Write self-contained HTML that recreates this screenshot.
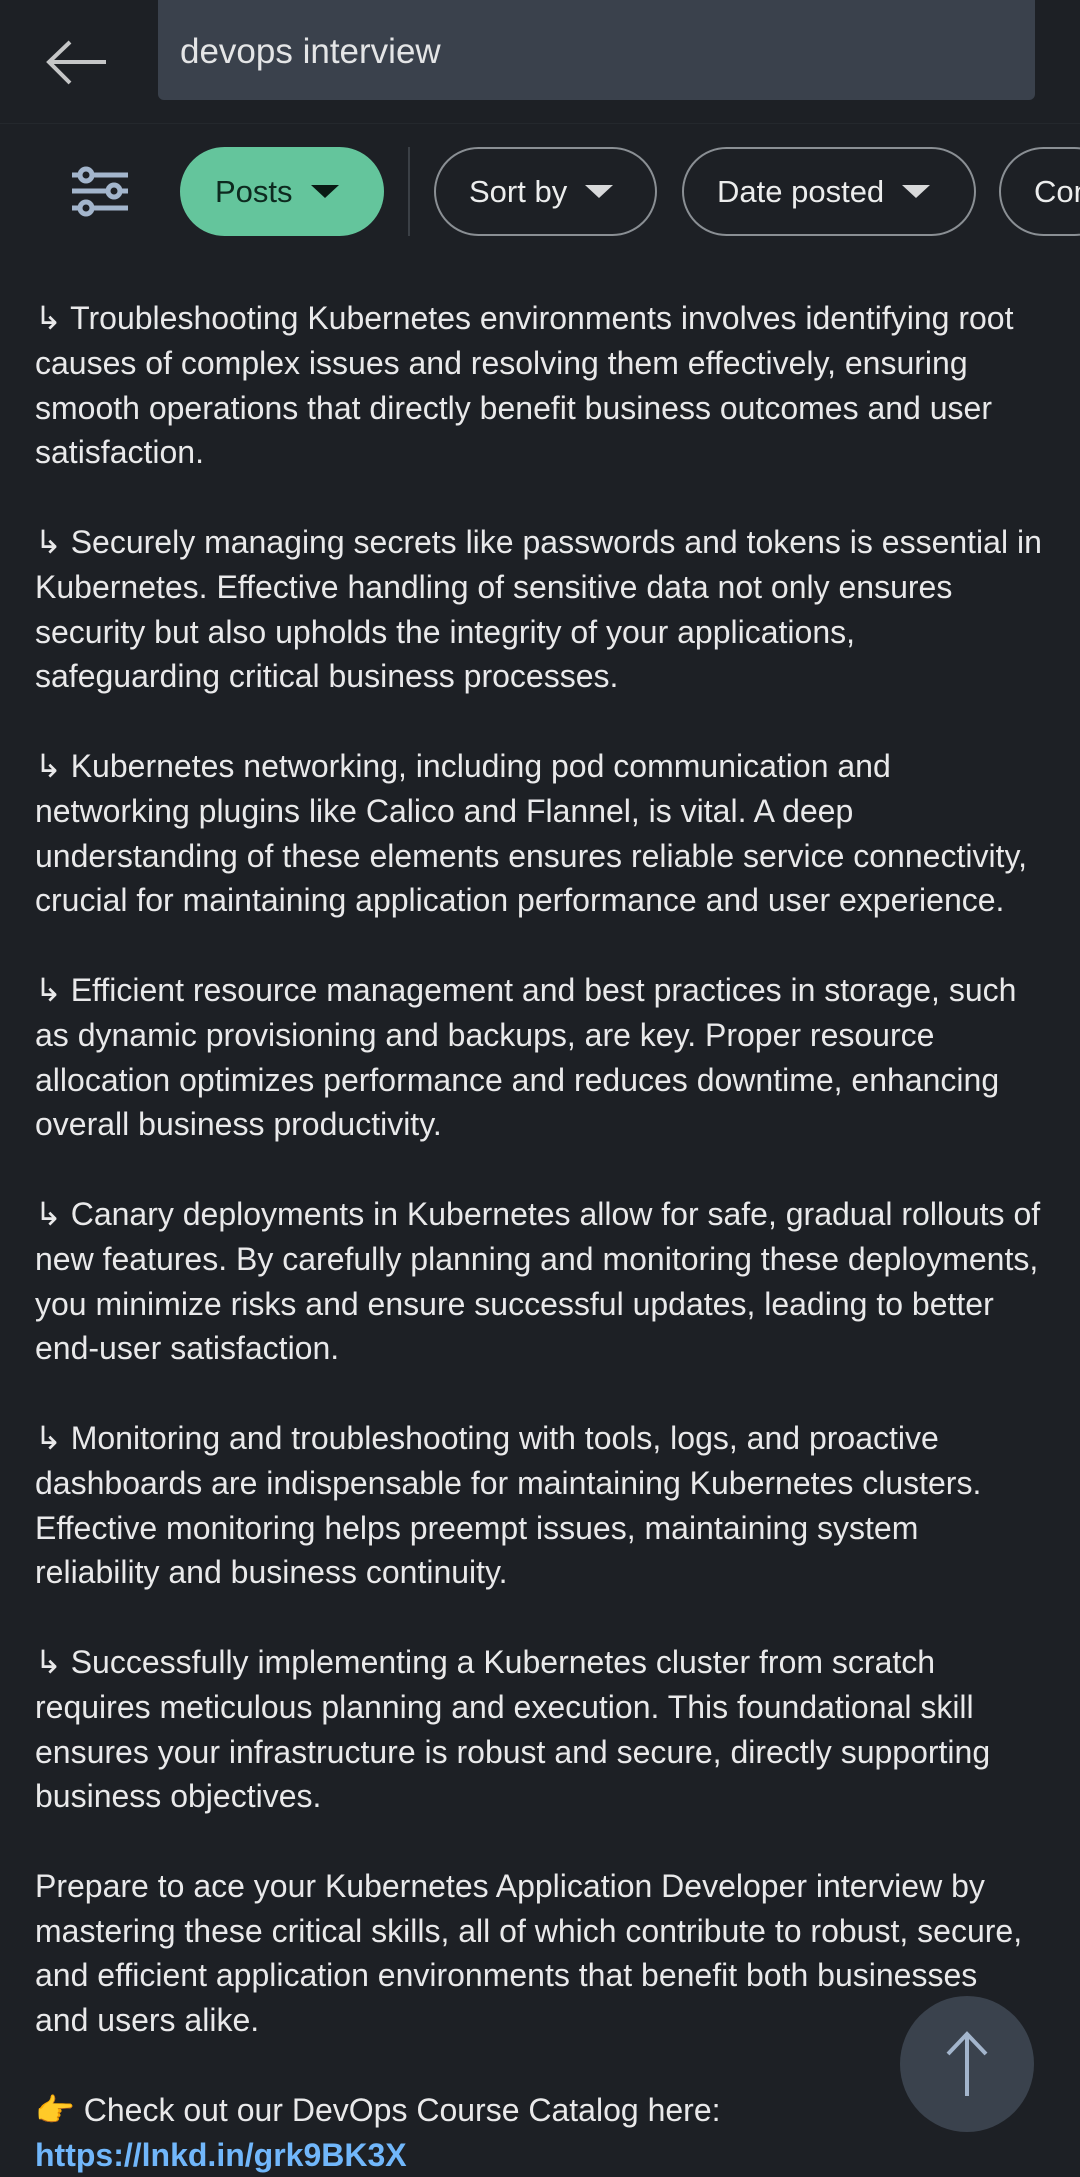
<!DOCTYPE html>
<html><head><meta charset="utf-8"><style>
html,body{margin:0;padding:0;overflow:hidden;}
body{width:1080px;height:2177px;background:#1d2025;position:relative;overflow:hidden;font-family:"Liberation Sans",Arial,sans-serif;color:#e9e9ea;}
.clip{position:absolute;left:0;top:0;width:1080px;height:2177px;overflow:hidden;}
.search{position:absolute;left:158px;top:0;width:877px;height:100px;background:#3a414c;border-radius:0 0 6px 6px;}
.search span{position:absolute;left:22px;top:32px;font-size:35px;color:#e4e5e6;}
.pill{position:absolute;top:147px;height:89px;box-sizing:border-box;border:2px solid #8a8f94;border-radius:45px;font-size:31px;line-height:85px;color:#eceded;padding-left:33px;white-space:nowrap;overflow:hidden;}
.tri{display:inline-block;width:0;height:0;border-left:14px solid transparent;border-right:14px solid transparent;border-top:13px solid #d8d9da;vertical-align:middle;margin-left:18px;margin-top:-4px;}
.text{position:absolute;left:35px;top:296px;font-size:32px;line-height:44.8px;white-space:pre;}
a{color:#71b7fb;font-weight:bold;text-decoration:none;}
</style></head><body><div class="clip">
<svg style="position:absolute;left:44px;top:38px" width="66" height="50"><path d="M62 24 H6 M26 4 L5 24 L26 45" stroke="#c5c6c7" stroke-width="4" fill="none"/></svg>
<div class="search"><span>devops interview</span></div>
<div style="position:absolute;left:0;top:123px;width:1080px;height:1px;background:#24282d"></div>
<svg style="position:absolute;left:70px;top:165px" width="62" height="54"><g stroke="#a3b5cc" stroke-width="5" fill="#1d2025"><line x1="2" y1="10" x2="58" y2="10"/><line x1="2" y1="26" x2="58" y2="26"/><line x1="2" y1="43" x2="58" y2="43"/><circle cx="16" cy="10" r="6"/><circle cx="44" cy="26" r="6"/><circle cx="16" cy="43" r="6"/></g></svg>
<div class="pill" style="left:180px;width:204px;background:#64c59c;border-color:#64c59c;color:#0d2a1f;">Posts<span class="tri" style="border-top-color:#0a1a14"></span></div>
<div style="position:absolute;left:408px;top:147px;width:2px;height:89px;background:#3b4046"></div>
<div class="pill" style="left:434px;width:223px;">Sort by<span class="tri"></span></div>
<div class="pill" style="left:682px;width:294px;">Date posted<span class="tri"></span></div>
<div class="pill" style="left:999px;width:120px;">Content type</div>
<div class="text">↳ Troubleshooting Kubernetes environments involves identifying root
causes of complex issues and resolving them effectively, ensuring
smooth operations that directly benefit business outcomes and user
satisfaction.

↳ Securely managing secrets like passwords and tokens is essential in
Kubernetes. Effective handling of sensitive data not only ensures
security but also upholds the integrity of your applications,
safeguarding critical business processes.

↳ Kubernetes networking, including pod communication and
networking plugins like Calico and Flannel, is vital. A deep
understanding of these elements ensures reliable service connectivity,
crucial for maintaining application performance and user experience.

↳ Efficient resource management and best practices in storage, such
as dynamic provisioning and backups, are key. Proper resource
allocation optimizes performance and reduces downtime, enhancing
overall business productivity.

↳ Canary deployments in Kubernetes allow for safe, gradual rollouts of
new features. By carefully planning and monitoring these deployments,
you minimize risks and ensure successful updates, leading to better
end-user satisfaction.

↳ Monitoring and troubleshooting with tools, logs, and proactive
dashboards are indispensable for maintaining Kubernetes clusters.
Effective monitoring helps preempt issues, maintaining system
reliability and business continuity.

↳ Successfully implementing a Kubernetes cluster from scratch
requires meticulous planning and execution. This foundational skill
ensures your infrastructure is robust and secure, directly supporting
business objectives.

Prepare to ace your Kubernetes Application Developer interview by
mastering these critical skills, all of which contribute to robust, secure,
and efficient application environments that benefit both businesses
and users alike.

<span style="color:#f2b13a">👉</span> Check out our DevOps Course Catalog here:
<a>https://lnkd.in/grk9BK3X</a></div>
<div style="position:absolute;left:900px;top:1996px;width:134px;height:136px;border-radius:50%;background:#3a424d;"></div>
<svg style="position:absolute;left:942px;top:2030px" width="50" height="70"><path d="M25 66 V4 M6 24 L25 4 L44 24" stroke="#a3b5cc" stroke-width="4" fill="none"/></svg>
</div></body></html>
